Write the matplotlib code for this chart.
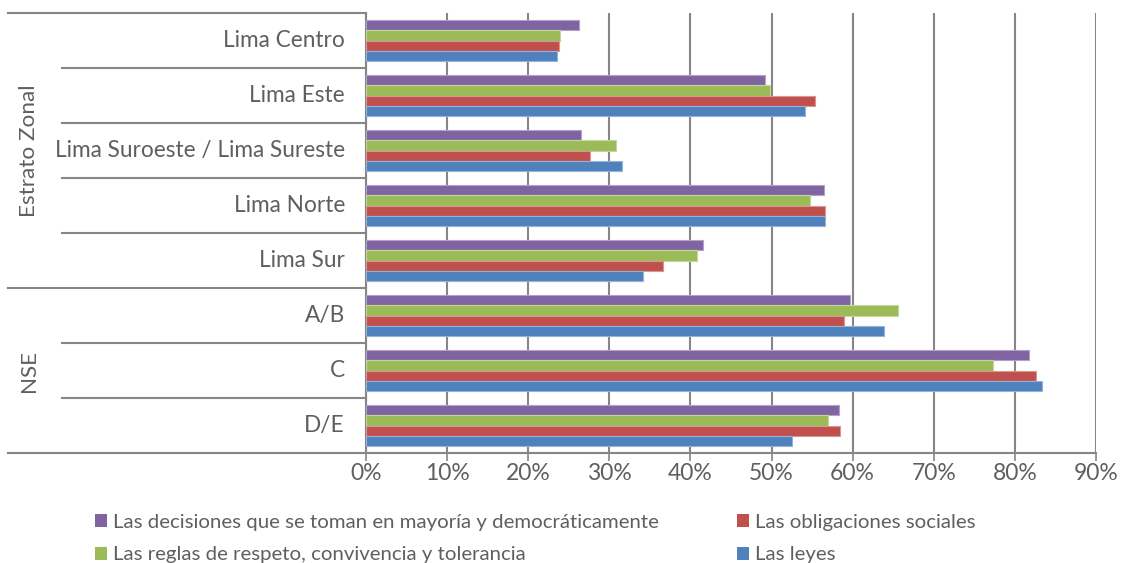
import matplotlib
matplotlib.use("Agg")
import matplotlib.pyplot as plt
from matplotlib.patches import Patch
import numpy as np

plt.rcParams['font.family'] = ['Lato', 'DejaVu Sans']

# categories from top to bottom
categories = ["Lima Centro", "Lima Este", "Lima Suroeste / Lima Sureste", "Lima Norte",
              "Lima Sur", "A/B", "C", "D/E"]
groups = ["Estrato Zonal", "NSE"]
group_sizes = [5, 3]

series_names = ["Las decisiones que se toman en mayoría y democráticamente",
                "Las reglas de respeto, convivencia y tolerancia",
                "Las obligaciones sociales",
                "Las leyes"]
decisiones = [26.2, 49.2, 26.5, 56.5, 41.6, 59.7, 81.8, 58.3]
reglas = [23.9, 49.8, 30.8, 54.7, 40.8, 65.6, 77.3, 57.0]
obligaciones = [23.8, 55.4, 27.6, 56.6, 36.6, 58.9, 82.6, 58.4]
leyes = [23.5, 54.1, 31.5, 56.6, 34.2, 63.9, 83.4, 52.5]

colors = ["#8064A2", "#9BBB59", "#C0504D", "#4F81BD"]
edges = ["#B3A2C7", "#C3D69B", "#D99694", "#95B3D7"]
text_col = "#5f5f5f"
line_col = "#868686"

fig = plt.figure(figsize=(11.23, 5.63), dpi=100)
ax = fig.add_axes([366 / 1123, 1 - 453 / 563, 730 / 1123, 440 / 563])

y = np.arange(len(categories))
h = 0.182
values = [decisiones, reglas, obligaciones, leyes]
for k, (vals, c, e) in enumerate(zip(values, colors, edges)):
    ax.barh(y + (k - 1.5) * h, vals, height=h, color=c, edgecolor=e, linewidth=0.8, zorder=3)

ax.set_xlim(0, 90)
ax.set_ylim(len(categories) - 0.5, -0.5)
ax.set_xticks(np.arange(0, 91, 10))
ax.set_xticklabels([f"{v}%" for v in range(0, 91, 10)])
ax.grid(axis="x", color=line_col, linewidth=1.5, zorder=0)
ax.tick_params(axis="x", colors=line_col, labelcolor=text_col, labelsize=16.5, length=6, width=1.2, pad=1)
ax.set_yticks([])

for s in ["top", "right"]:
    ax.spines[s].set_visible(False)
for s in ["left", "bottom"]:
    ax.spines[s].set_color(line_col)
    ax.spines[s].set_linewidth(1.5)

# hierarchical labels on the left
outer_x = (8 - 366) / 730
inner_x = (62 - 366) / 730
bounds = [-0.5]
start = 0
for g, n in zip(groups, group_sizes):
    start += n
    bounds.append(start - 0.5)
for i in range(len(categories) + 1):
    yb = i - 0.5
    x0 = outer_x if yb in bounds else inner_x
    ax.plot([x0, 0], [yb, yb], color=line_col, linewidth=1.5,
            transform=ax.get_yaxis_transform(), clip_on=False)

for i, cat in enumerate(categories):
    ax.text(-21 / 730, i, cat, transform=ax.get_yaxis_transform(), ha="right", va="center",
            fontsize=16.3, color=text_col)

start = 0
for g, n in zip(groups, group_sizes):
    mid = start + (n - 1) / 2
    ax.text((29 - 366) / 730, mid, g, transform=ax.get_yaxis_transform(), ha="center",
            va="center", rotation=90, fontsize=16.2, color=text_col)
    start += n

handles = [Patch(facecolor=c) for c in colors]
fig.legend(handles, series_names, ncol=2, loc="upper left", bbox_to_anchor=(95 / 1123, 1 - 514 / 563),
           frameon=False, fontsize=14.7, labelcolor=text_col, handlelength=0.6, handleheight=0.6,
           handletextpad=0.3, columnspacing=3.8, labelspacing=0.75, borderpad=0, borderaxespad=0)

fig.savefig("out.png", dpi=100)
